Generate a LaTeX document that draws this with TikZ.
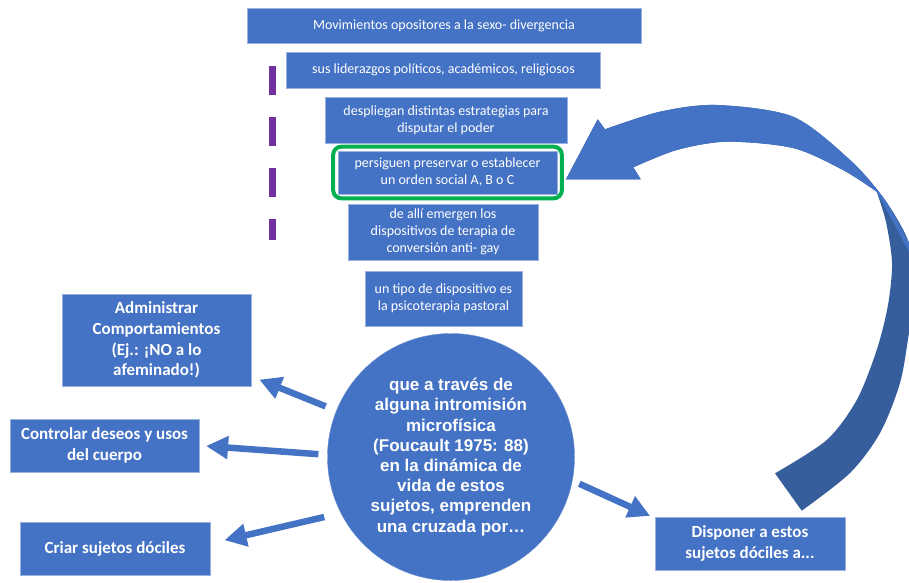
\documentclass[tikz,border=0pt]{standalone}
\usepackage{fontspec}
\setmainfont{Carlito}
\newfontfamily\circfont{Liberation Sans}
\usetikzlibrary{arrows.meta,fit}

\definecolor{boxblue}{HTML}{4472C4}
\definecolor{arcdark}{RGB}{54,94,157}
\definecolor{framegreen}{HTML}{00B050}
\definecolor{dashpurple}{HTML}{7030A0}

\tikzset{
  stepbox/.style={fill=boxblue, draw=boxblue!55!white, line width=0.6pt, text=white,
    align=center, inner sep=0pt, font=\fontsize{14}{17}\selectfont},
  sidebox/.style={stepbox, font=\fontsize{17}{20.7}\selectfont\bfseries},
  centrecircle/.style={circle, fill=boxblue, draw=boxblue!80!white, minimum size=247pt,
    inner sep=0pt, text=white, align=center,
    font=\circfont\bfseries\fontsize{17}{20.2}\selectfont},
  greenframe/.style={draw=framegreen, line width=4pt, rounded corners=8pt,
    inner xsep=4.5pt, inner ysep=4pt},
  blockarrow/.style={draw=boxblue, line width=6.5pt, -{Triangle[width=22pt,length=22pt]}}
}

\begin{document}
\begin{tikzpicture}[x=1pt,y=-1pt]

    \useasboundingbox (0,0) rectangle (909,582);
    \clip (0,0) rectangle (909,582);

    %% Curved return arrow
    % dark back face
    \fill[arcdark] (633.3,167.3) -- (640.7,179.3) -- (566,179.3) -- (597.7,119.3) -- (605,129.3)
      -- plot[smooth] coordinates {(605,129.3) (660,111.7) (716.7,105) (793,116.7) (850,160) (885,200) (909,243) (916,290) (909,333) (900,383) (880,433) (850,473) (801.7,510.7)}
      -- (775,473.3)
      -- plot[smooth] coordinates {(775,473.3) (826.7,440) (856.7,400) (876.7,350) (888,305) (892,263) (886,222) (876.7,191.7)}
      -- plot[smooth] coordinates {(876.7,191.7) (843,170) (793,148) (726.7,141.7) (676.7,150) (633.3,167.3)}
      -- cycle;
    % light front face with head
    \fill[boxblue] (633.3,167.3) -- (640.7,179.3) -- (566,179.3) -- (597.7,119.3) -- (605,129.3)
      -- plot[smooth] coordinates {(605,129.3) (660,111.7) (716.7,105) (793,116.7) (850,160) (885,200) (909,243)}
      -- (909,252) -- (876.7,191.7)
      -- plot[smooth] coordinates {(876.7,191.7) (843,170) (793,148) (726.7,141.7) (676.7,150) (633.3,167.3)}
      -- cycle;

    %% Stack of steps
    \node[stepbox, minimum width=394pt, minimum height=35pt] (movs) at (444,25.5)
        {Movimientos opositores a la sexo- divergencia};
    \node[stepbox, minimum width=314pt, minimum height=36pt] (lider) at (443.5,70)
        {sus liderazgos políticos, académicos, religiosos};
    \node[stepbox, minimum width=242pt, minimum height=46pt] (estrat) at (446,120)
        {despliegan distintas estrategias para\\disputar el poder};
    \node[stepbox, minimum width=219pt, minimum height=43pt] (orden) at (447.5,172.5)
        {persiguen preservar o establecer\\un orden social A, B o C};
    \node[stepbox, minimum width=190pt, minimum height=56pt] (terapia) at (443,232)
        {de allí emergen los\\dispositivos de terapia de\\conversión anti- gay};
    \node[stepbox, minimum width=157pt, minimum height=55pt] (pastoral) at (443.5,298.5)
        {un tipo de dispositivo es\\la psicoterapia pastoral};

    % Highlight
    \node[greenframe, fit=(orden)] (frame) {};

    % Dashed marker
    \draw[dashpurple, line width=7pt, dash pattern=on 29pt off 22pt] (272.5,66) -- (272.5,240);

    %% Centre circle
    \node[centrecircle] (circ) at (451,457)
        {que a través de\\alguna intromisión\\microfísica\\(Foucault 1975: 88)\\en la dinámica de\\vida de estos\\sujetos, emprenden\\una cruzada por…};

    %% Outcomes
    \node[sidebox, minimum width=189pt, minimum height=92pt] (admin) at (156.5,340)
        {Administrar\\Comportamientos\\(Ej.: ¡NO a lo\\afeminado!)};
    \node[sidebox, minimum width=189pt, minimum height=53pt] (ctrl) at (104.5,445.5)
        {Controlar deseos y usos\\del cuerpo};
    \node[sidebox, minimum width=190pt, minimum height=53pt] (criar) at (115,548.5)
        {Criar sujetos dóciles};
    \node[sidebox, minimum width=190pt, minimum height=53pt] (disp) at (750,543.5)
        {Disponer a estos\\sujetos dóciles a...};

    % Arrows out of the circle
    \draw[blockarrow, shorten <=11.5pt, shorten >=8.6pt] (circ.158) -- (admin.-21);
    \draw[blockarrow, shorten <=9pt, shorten >=6.8pt] (circ.179) -- (ctrl.east);
    \draw[blockarrow, shorten <=17pt, shorten >=14.6pt] (circ.207) -- (criar.3);
    \draw[blockarrow, shorten <=7.6pt, shorten >=5pt] (circ.-11) -- (disp.165);

\end{tikzpicture}
\end{document}
